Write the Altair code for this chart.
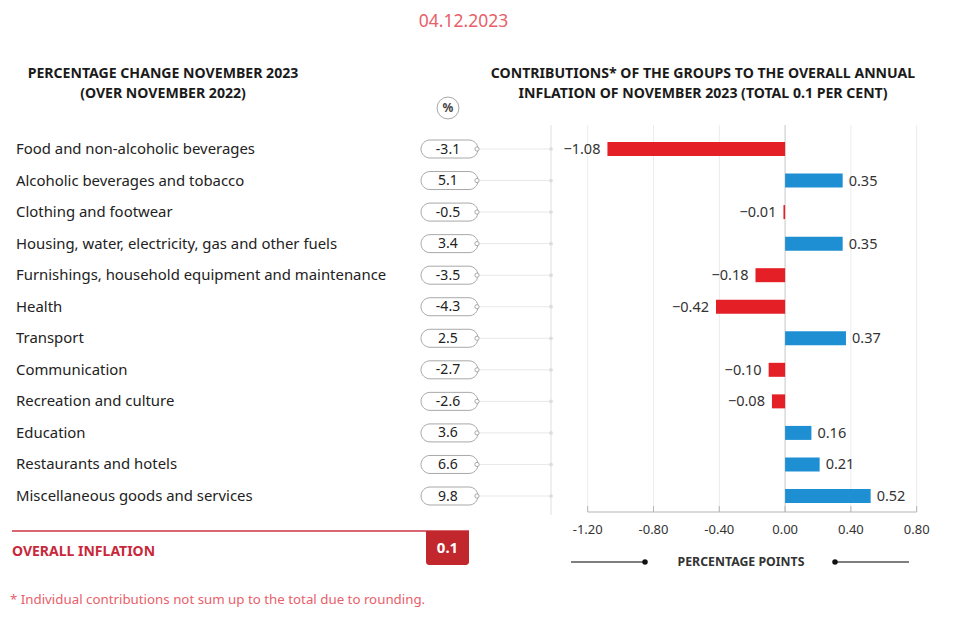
import altair as alt
import pandas as pd

categories = [
    "Food and non-alcoholic beverages",
    "Alcoholic beverages and tobacco",
    "Clothing and footwear",
    "Housing, water, electricity, gas and other fuels",
    "Furnishings, household equipment and maintenance",
    "Health",
    "Transport",
    "Communication",
    "Recreation and culture",
    "Education",
    "Restaurants and hotels",
    "Miscellaneous goods and services",
]
pct_change = [-3.1, 5.1, -0.5, 3.4, -3.5, -4.3, 2.5, -2.7, -2.6, 3.6, 6.6, 9.8]
contributions = [-1.08, 0.35, -0.01, 0.35, -0.18, -0.42, 0.37, -0.10, -0.08, 0.16, 0.21, 0.52]
tick_values = [-1.2, -0.8, -0.4, 0.0, 0.4, 0.8]
tick_labels = ["-1.20", "-0.80", "-0.40", "0.00", "0.40", "0.80"]
overall_inflation = "0.1"
date_text = "04.12.2023"

FONT = "Noto Sans"
RED = "#e41f26"
BLUE = "#1f8fd3"
DARKRED = "#c1272d"
PINK = "#e8606a"

df = pd.DataFrame({
    "cat": categories,
    "pct": pct_change,
    "pct_label": [f"{v:.1f}" for v in pct_change],
    "value": contributions,
})
df["zero"] = 0.0
df["sign"] = ["neg" if v < 0 else "pos" for v in contributions]
ticks = pd.DataFrame({"tick": tick_values, "label": tick_labels})
one = pd.DataFrame({"a": [0]})

xscale = alt.Scale(domain=[-1.2, 0.8], range=[579.7, 908.7], nice=False, zero=False)
yscale = alt.Scale(type="point", domain=categories, range=[141, 488], padding=0)
Y = alt.Y("cat:N", scale=yscale, axis=None)

base = alt.Chart(df)

labels = base.mark_text(align="left", baseline="middle", dy=1, fontSize=14.9, color="#222", font=FONT).encode(
    x=alt.value(8), y=Y, text="cat:N")

connectors = base.mark_rule(color="#e8e8e8", strokeWidth=1).encode(
    x=alt.value(471), x2=alt.value(543), y=Y)
conn_dots = base.mark_circle(color="#dcdcdc", size=14, opacity=1).encode(x=alt.value(543), y=Y)

pills = base.mark_bar(height=18, cornerRadius=9, fill="white", stroke="#a8a8a8", strokeWidth=1).encode(
    x=alt.value(413), x2=alt.value(470), y=Y)
pill_dots = base.mark_point(shape="circle", size=18, filled=True, fill="white", stroke="#a8a8a8",
                            strokeWidth=1, opacity=1).encode(x=alt.value(469), y=Y)
pill_text = base.mark_text(align="center", baseline="middle", dy=0.5, fontSize=14, color="#222", font=FONT).encode(
    x=alt.value(440), y=Y, text="pct_label:N")

vline = alt.Chart(one).mark_rule(color="#e0e0e0", strokeWidth=1).encode(
    x=alt.value(543), y=alt.value(117), y2=alt.value(507))

X_T = alt.X("tick:Q", scale=xscale, axis=None)
grid = alt.Chart(ticks).mark_rule(color="#ececec", strokeWidth=1).encode(
    x=X_T, y=alt.value(117), y2=alt.value(504))
zero_line = alt.Chart(ticks).transform_filter("datum.tick == 0").mark_rule(color="#cfcfcf", strokeWidth=1).encode(
    x=X_T, y=alt.value(117), y2=alt.value(504))
axis_line = alt.Chart(ticks).transform_aggregate(
    lo="min(tick)", hi="max(tick)").mark_rule(color="#b5b5b5", strokeWidth=1).encode(
    x=alt.X("lo:Q", scale=xscale, axis=None), x2="hi:Q", y=alt.value(504))
axis_ticks = alt.Chart(ticks).mark_rule(color="#b5b5b5", strokeWidth=1).encode(
    x=X_T, y=alt.value(498), y2=alt.value(504))
axis_labels = alt.Chart(ticks).mark_text(baseline="middle", align="center", fontSize=13, color="#333", font=FONT).encode(
    x=X_T, y=alt.value(522), text="label:N")

bars = base.mark_bar(height=14).encode(
    x=alt.X("value:Q", scale=xscale, axis=None),
    x2="zero:Q",
    y=Y,
    color=alt.Color("sign:N", scale=alt.Scale(domain=["neg", "pos"], range=[RED, BLUE]), legend=None),
)
pos_text = base.transform_filter("datum.value >= 0").mark_text(
    align="left", baseline="middle", dx=6, dy=1, fontSize=14.5, color="#333", font=FONT).encode(
    x=alt.X("value:Q", scale=xscale, axis=None), y=Y, text=alt.Text("value:Q", format=".2f"))
neg_text = base.transform_filter("datum.value < 0").mark_text(
    align="right", baseline="middle", dx=-7, dy=1, fontSize=14.5, color="#333", font=FONT).encode(
    x=alt.X("value:Q", scale=xscale, axis=None), y=Y, text=alt.Text("value:Q", format=".2f"))

date = alt.Chart(one).mark_text(text=date_text, align="center", baseline="alphabetic", fontSize=17.5,
                                color=PINK, font=FONT).encode(x=alt.value(455.5), y=alt.value(19))
title_left = alt.Chart(one).mark_text(
    text=["PERCENTAGE CHANGE NOVEMBER 2023", "(OVER NOVEMBER 2022)"], align="center", baseline="middle",
    fontSize=14.1, fontWeight="bold", color="#1a1a1a", font=FONT, lineHeight=20).encode(
    x=alt.value(155), y=alt.value(65.5))
title_right = alt.Chart(one).mark_text(
    text=["CONTRIBUTIONS* OF THE GROUPS TO THE OVERALL ANNUAL",
          "INFLATION OF NOVEMBER 2023 (TOTAL 0.1 PER CENT)"], align="center", baseline="middle",
    fontSize=14.1, fontWeight="bold", color="#1a1a1a", font=FONT, lineHeight=20).encode(
    x=alt.value(695), y=alt.value(65.5))
pct_circle = alt.Chart(one).mark_point(shape="circle", size=480, filled=True, fill="white",
                                        stroke="#a8a8a8", strokeWidth=1, opacity=1).encode(
    x=alt.value(440), y=alt.value(100))
pct_text = alt.Chart(one).mark_text(text="%", align="center", baseline="middle", fontSize=12,
                                     fontWeight="bold", color="#444", font=FONT).encode(
    x=alt.value(440), y=alt.value(100))

pp_text = alt.Chart(one).mark_text(text="PERCENTAGE POINTS", align="center", baseline="middle",
                                   fontSize=12.3, fontWeight="bold", color="#333", font=FONT).encode(
    x=alt.value(733), y=alt.value(554))
pp_l = alt.Chart(one).mark_rule(color="#555", strokeWidth=1.5).encode(
    x=alt.value(563), x2=alt.value(637), y=alt.value(554))
pp_r = alt.Chart(one).mark_rule(color="#555", strokeWidth=1.5).encode(
    x=alt.value(827), x2=alt.value(901), y=alt.value(554))
pp_dot_l = alt.Chart(one).mark_circle(color="#111", size=30, opacity=1).encode(x=alt.value(637), y=alt.value(554))
pp_dot_r = alt.Chart(one).mark_circle(color="#111", size=30, opacity=1).encode(x=alt.value(827), y=alt.value(554))

red_line = alt.Chart(one).mark_rule(color="#cc3340", strokeWidth=1.5).encode(
    x=alt.value(4), x2=alt.value(461), y=alt.value(523))
oi_text = alt.Chart(one).mark_text(text="OVERALL INFLATION", align="left", baseline="middle", fontSize=14,
                                   fontWeight="bold", color="#c8283a", font=FONT).encode(
    x=alt.value(4), y=alt.value(544))
oi_box = alt.Chart(one).mark_rect(fill=DARKRED, cornerRadiusBottomLeft=3, cornerRadiusBottomRight=3).encode(
    x=alt.value(418), x2=alt.value(461), y=alt.value(523), y2=alt.value(557))
oi_val = alt.Chart(one).mark_text(text=overall_inflation, align="center", baseline="middle", fontSize=15,
                                  fontWeight="bold", color="white", font=FONT).encode(
    x=alt.value(439.5), y=alt.value(540))
footnote = alt.Chart(one).mark_text(
    text="* Individual contributions not sum up to the total due to rounding.", align="left",
    baseline="middle", fontSize=13.3, color=PINK, font=FONT).encode(x=alt.value(2), y=alt.value(592))

chart = alt.layer(
    vline, grid, zero_line, axis_line, axis_ticks, axis_labels,
    connectors, conn_dots, pills, pill_dots, pill_text, labels,
    bars, pos_text, neg_text,
    date, title_left, title_right, pct_circle, pct_text,
    pp_l, pp_r, pp_dot_l, pp_dot_r, pp_text,
    red_line, oi_box, oi_text, oi_val, footnote,
).properties(
    width=959, height=607, autosize=alt.AutoSizeParams(type="none"), padding=0, background="white"
).configure_view(stroke=None)

chart.save("out.html", embed_options={"renderer": "svg", "actions": False})
